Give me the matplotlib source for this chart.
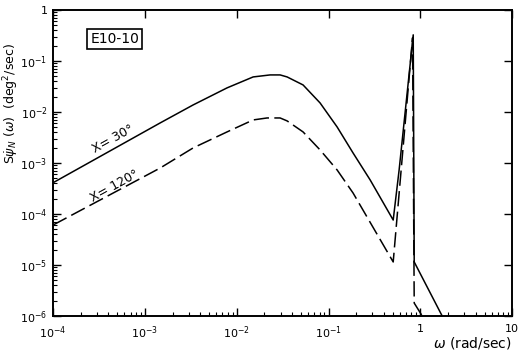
import numpy as np
import matplotlib.pyplot as plt
from matplotlib.ticker import LogLocator, NullFormatter

# chi = 30 deg (solid line)
omega_30 = [1.0e-4, 1.47e-3, 3.35e-3, 7.85e-3, 1.51e-2, 2.31e-2, 2.97e-2, 3.54e-2,
            5.28e-2, 8.09e-2, 0.124, 0.185, 0.284, 0.506, 0.587, 0.836, 0.857, 1.73]
S_30 = [4.1e-4, 6.1e-3, 1.37e-2, 2.96e-2, 4.85e-2, 5.31e-2, 5.31e-2, 4.85e-2,
        3.38e-2, 1.50e-2, 5.08e-3, 1.57e-3, 4.65e-4, 7.62e-5, 7.3e-4, 0.324, 1.15e-5, 1.0e-6]

# chi = 120 deg (dashed line)
omega_120 = [1.0e-4, 1.47e-3, 3.35e-3, 7.85e-3, 1.51e-2, 2.14e-2, 2.97e-2, 3.54e-2,
             5.28e-2, 8.09e-2, 0.124, 0.185, 0.506, 0.822, 0.857, 1.05]
S_120 = [6.08e-5, 7.98e-4, 1.97e-3, 4.06e-3, 6.97e-3, 7.62e-3, 7.62e-3, 6.67e-3,
         4.06e-3, 1.80e-3, 7.3e-4, 2.58e-4, 1.15e-5, 0.283, 1.8e-6, 1.0e-6]

xticks = [1e-4, 1e-3, 1e-2, 1e-1, 1, 10]
xticklabels = [r"$10^{-4}$", r"$10^{-3}$", r"$10^{-2}$", r"$10^{-1}$", "1", "10"]
yticks = [1e-6, 1e-5, 1e-4, 1e-3, 1e-2, 1e-1, 1]
yticklabels = [r"$10^{-6}$", r"$10^{-5}$", r"$10^{-4}$", r"$10^{-3}$", r"$10^{-2}$", r"$10^{-1}$", "1"]

fig = plt.figure(figsize=(5.2, 3.52), dpi=100)
ax = fig.add_axes([0.102, 0.102, 0.883, 0.870])

ax.plot(omega_30, S_30, color="black", lw=1.1)
ax.plot(omega_120, S_120, color="black", lw=1.1, dashes=(10, 3.5))

ax.set_xscale("log")
ax.set_yscale("log")
ax.set_xlim(1e-4, 10)
ax.set_ylim(1e-6, 1)

ax.set_xticks(xticks)
ax.set_xticklabels(xticklabels)
ax.set_yticks(yticks)
ax.set_yticklabels(yticklabels)
ax.xaxis.set_minor_locator(LogLocator(base=10, subs=np.arange(2, 10), numticks=20))
ax.yaxis.set_minor_locator(LogLocator(base=10, subs=np.arange(2, 10), numticks=20))
ax.xaxis.set_minor_formatter(NullFormatter())
ax.yaxis.set_minor_formatter(NullFormatter())

ax.tick_params(which="major", direction="in", length=6, width=1.0,
               top=True, right=True, labelsize=8)
ax.tick_params(axis="x", which="major", pad=6)
ax.tick_params(axis="y", which="major", pad=4)
ax.tick_params(which="minor", direction="in", length=3, width=0.8,
               top=False, right=False)
for s in ax.spines.values():
    s.set_linewidth(1.4)

# curve labels
ax.text(4.5e-4, 3.0e-3, "X= 30°", rotation=29, rotation_mode="anchor",
        ha="center", va="center", fontsize=9)
ax.text(4.7e-4, 3.5e-4, "X= 120°", rotation=29, rotation_mode="anchor",
        ha="center", va="center", fontsize=9)

# case id box
ax.text(0.134, 0.904, "E10-10", transform=ax.transAxes, ha="center", va="center",
        fontsize=10, bbox=dict(boxstyle="square,pad=0.2", fc="white", ec="black", lw=1.2))

fig.text(0.021, 0.707, r"S$\dot{\psi}_{N}$ ($\omega$)  (deg$^2$/sec)",
         rotation=90, ha="center", va="center", fontsize=9)
fig.text(0.908, 0.026, r"$\omega$ (rad/sec)", ha="center", va="center", fontsize=10)

plt.savefig("out.png", dpi=100)
